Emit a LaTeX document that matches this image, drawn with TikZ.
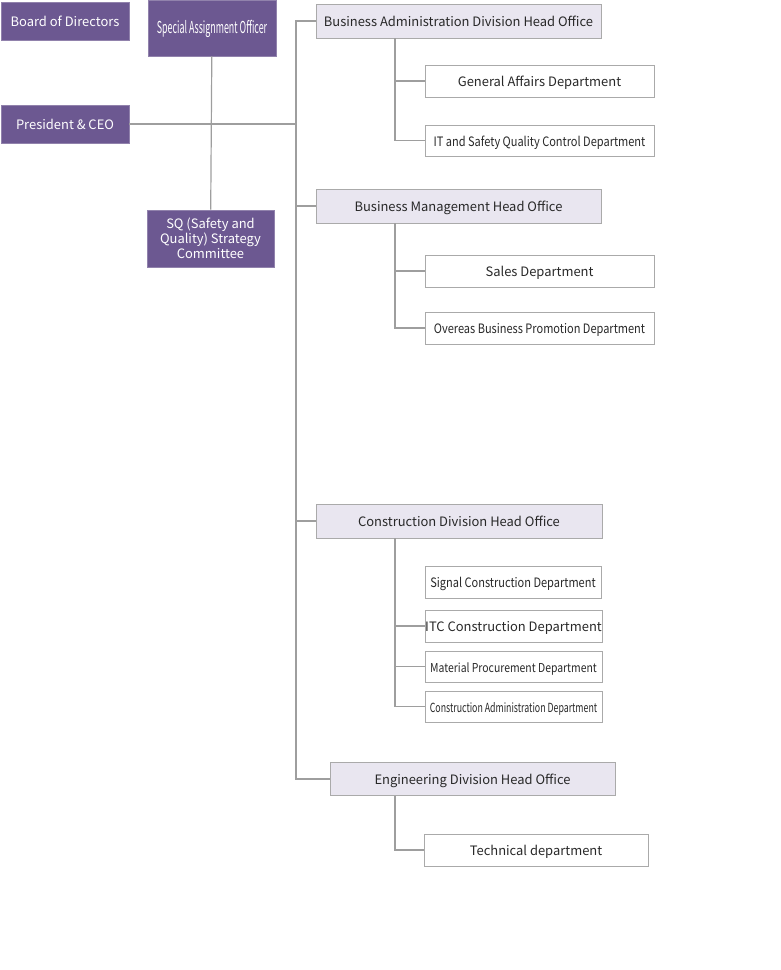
\documentclass[tikz,border=0pt]{standalone}
\usepackage{fontspec}
\setmainfont{Noto Sans CJK JP}
\newfontfamily\narrowfont{Noto Sans CJK JP}[FakeStretch=0.85]
\newfontfamily\condfont{Noto Sans CJK JP}[FakeStretch=0.7]
\newfontfamily\slimfont{Noto Sans CJK JP}[FakeStretch=0.54]
\usetikzlibrary{positioning}
\definecolor{boardpurple}{RGB}{108,88,145}
\definecolor{headfill}{RGB}{233,230,240}
\definecolor{linegray}{RGB}{158,158,158}
\definecolor{boxgray}{RGB}{170,170,170}
\definecolor{textgray}{RGB}{40,40,40}

\begin{document}
\begin{tikzpicture}[x=1bp,y=-1bp]
		\tikzstyle{every node}=[font=\fontsize{13}{15}\selectfont, inner sep=0pt, text=textgray, text height=12bp, text depth=0.5bp]
		\tikzstyle{topbox}=[fill=boardpurple, draw=boardpurple!75!white, line width=0.8pt, text=white, minimum width=128bp]
		\tikzstyle{headbox}=[fill=headfill, draw=boxgray, line width=0.8pt, minimum height=34bp]
		\tikzstyle{deptbox}=[fill=white, draw=boxgray, line width=0.8pt, minimum height=32bp]
		\tikzstyle{conn}=[draw=linegray, line width=1.2pt]
		\useasboundingbox (0,0) rectangle (781,970);
		% top management
		\node [topbox, minimum height=38bp] (board) at (65,21) {Board of Directors};
		\node [topbox, minimum height=56bp, font=\slimfont\fontsize{16.5}{18}\selectfont] (special) at (212,28) {Special Assignment Officer};
		\node [topbox, minimum height=38bp] (president) at (65,124) {President \& CEO};
		\node [topbox, minimum width=127bp, minimum height=57bp, align=center, text height={}, text depth={}] (sq) at (210.5,238.5) {SQ (Safety and\\Quality) Strategy\\Committee};
		% head offices
		\node [headbox, minimum width=285bp] (ba) at (458.5,21) {Business Administration Division Head Office};
		\node [headbox, minimum width=285bp] (bm) at (458.5,206) {Business Management Head Office};
		\node [headbox, minimum width=286bp] (cons) at (459,521) {Construction Division Head Office};
		\node [headbox, minimum width=285bp, minimum height=33bp] (eng) at (472.5,779) {Engineering Division Head Office};
		% departments
		\node [deptbox, minimum width=229bp] (ga) at (539.5,81) {General Affairs Department};
		\node [deptbox, minimum width=229bp, minimum height=31bp, font=\narrowfont\fontsize{13}{15}\selectfont] (it) at (539.5,140.5) {IT and Safety Quality Control Department};
		\node [deptbox, minimum width=229bp] (sales) at (539.5,271) {Sales Department};
		\node [deptbox, minimum width=229bp, font=\narrowfont\fontsize{13}{15}\selectfont] (overseas) at (539.5,328) {Overeas Business Promotion Department};
		\node [deptbox, minimum width=176bp, font=\narrowfont\fontsize{13}{15}\selectfont] (signal) at (513,582) {Signal Construction Department};
		\node [deptbox, minimum width=177bp, font=\fontsize{13}{15}\selectfont] (itc) at (513.5,626) {ITC Construction Department};
		\node [deptbox, minimum width=177bp, minimum height=31bp, font=\narrowfont\fontsize{12.3}{15}\selectfont] (material) at (513.5,666.5) {Material Procurement Department};
		\node [deptbox, minimum width=177bp, minimum height=31bp, font=\condfont\fontsize{12.6}{15}\selectfont] (consadm) at (513.5,706.5) {Construction Administration Department};
		\node [deptbox, minimum width=224bp] (tech) at (536,850) {Technical department};
		% connectors
		\coordinate (spine) at (296,124);
		\coordinate (sub) at (395,0);
		\draw [conn] (special) -- (sq);
		\draw [conn] (president) -- (spine);
		\draw [conn] (ba.west) -| (spine) |- (eng.west);
		\draw [conn] (spine |- bm.west) -- (bm.west);
		\draw [conn] (spine |- cons.west) -- (cons.west);
		\draw [conn] (ba.south -| sub) |- (it.west);
		\draw [conn] (sub |- ga.west) -- (ga.west);
		\draw [conn] (bm.south -| sub) |- (overseas.west);
		\draw [conn] (sub |- sales.west) -- (sales.west);
		\draw [conn] (cons.south -| sub) |- (consadm.west);
		\draw [conn] (sub |- itc.west) -- (itc.west);
		\draw [conn] (sub |- material.west) -- (material.west);
		\draw [conn] (eng.south -| sub) |- (tech.west);
	\end{tikzpicture}
\end{document}
